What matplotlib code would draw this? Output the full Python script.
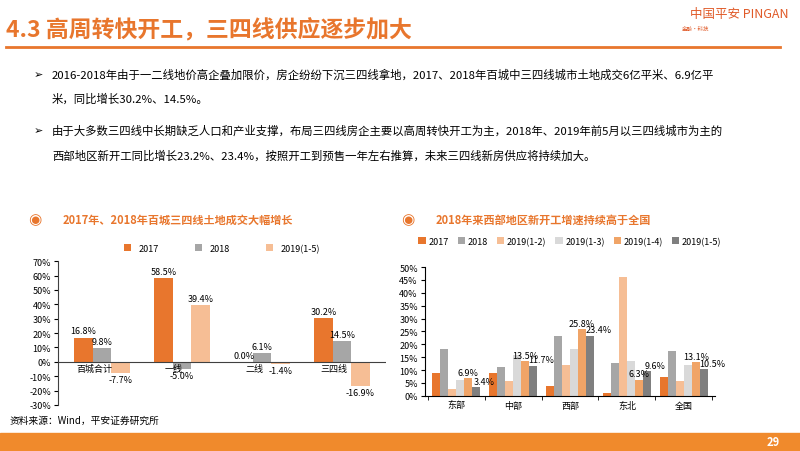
import numpy as np
import matplotlib
matplotlib.use('Agg')
import matplotlib.pyplot as plt
from matplotlib.patches import Rectangle

plt.rcParams['font.family'] = ['Noto Sans CJK SC', 'DejaVu Sans']

# 左图数据
left_cats = ['百城合计', '一线', '二线', '三四线']
left_series = ['2017', '2018', '2019(1-5)']
left_2017 = [16.8, 58.5, 0.0, 30.2]
left_2018 = [9.8, -5.0, 6.1, 14.5]
left_2019 = [-7.7, 39.4, -1.4, -16.9]

# 右图数据
right_cats = ['东部', '中部', '西部', '东北', '全国']
right_series = ['2017', '2018', '2019(1-2)', '2019(1-3)', '2019(1-4)', '2019(1-5)']
r_2017 = [8.8, 9.0, 4.0, 1.3, 7.2]
r_2018 = [18.2, 11.2, 23.2, 12.6, 17.3]
r_1_2 = [2.8, 5.8, 11.8, 46.0, 5.8]
r_1_3 = [6.3, 15.8, 18.2, 13.5, 11.9]
r_1_4 = [6.9, 13.5, 25.8, 6.3, 13.1]
r_1_5 = [3.4, 11.7, 23.4, 9.6, 10.5]

ORANGE = '#E8762D'
GRAY = '#A6A6A6'
PEACH = '#F6BE95'

fig = plt.figure(figsize=(8, 4.52), dpi=100)
fig.patch.set_facecolor('white')

# 页眉
fig.text(0.008, 0.932, '4.3 高周转快开工，三四线供应逐步加大', fontsize=16.5, color=ORANGE,
         fontweight='bold', va='center')
fig.text(0.985, 0.968, '中国平安 PINGAN', fontsize=9, color='#E05A28', ha='right', va='center')
fig.text(0.87, 0.935, '金融·科技', fontsize=4, color='#E05A28', ha='center', va='center')
fig.add_artist(plt.Line2D([0.008, 0.975], [0.893, 0.893], color=ORANGE, lw=2))

bullet1 = ('2016-2018年由于一二线地价高企叠加限价，房企纷纷下沉三四线拿地，2017、2018年百城中三四线城市土地成交6亿平米、6.9亿平')
bullet1b = '米，同比增长30.2%、14.5%。'
bullet2 = '由于大多数三四线中长期缺乏人口和产业支撑，布局三四线房企主要以高周转快开工为主，2018年、2019年前5月以三四线城市为主的'
bullet2b = '西部地区新开工同比增长23.2%、23.4%，按照开工到预售一年左右推算，未来三四线新房供应将持续加大。'
fs = 8.2
fig.text(0.042, 0.835, '➢', fontsize=8, va='center', family=['DejaVu Sans'])
fig.text(0.065, 0.835, bullet1, fontsize=fs, va='center')
fig.text(0.065, 0.78, bullet1b, fontsize=fs, va='center')
fig.text(0.042, 0.71, '➢', fontsize=8, va='center', family=['DejaVu Sans'])
fig.text(0.065, 0.71, bullet2, fontsize=fs, va='center')
fig.text(0.065, 0.655, bullet2b, fontsize=fs, va='center')

# 子图标题
for cx, title in [(0.043, '2017年、2018年百城三四线土地成交大幅增长'),
                  (0.51, '2018年来西部地区新开工增速持续高于全国')]:
    fig.text(cx, 0.513, '◉', fontsize=11, color=ORANGE, ha='center', va='center',
             family=['DejaVu Sans'])
    fig.text(cx + 0.035, 0.513, title, fontsize=8, color=ORANGE, fontweight='bold', va='center')

# 左图
ax1 = fig.add_axes([0.0725, 0.102, 0.41, 0.318])
x = np.arange(len(left_cats))
w = 0.23
vals_l = [left_2017, left_2018, left_2019]
cols_l = [ORANGE, GRAY, PEACH]
for i, (vals, c, name) in enumerate(zip(vals_l, cols_l, left_series)):
    pos = x + (i - 1) * w
    ax1.bar(pos, vals, w, color=c, label=name)
    for p, v in zip(pos, vals):
        ax1.text(p, v + (1.5 if v >= 0 else -1.5), f'{v:.1f}%', ha='center',
                 va='bottom' if v >= 0 else 'top', fontsize=6.5)
for xi, cat in zip(x, left_cats):
    ax1.text(xi - 0.1, -1.5, cat, ha='center', va='top', fontsize=6.5)
ax1.axhline(0, color='#404040', lw=0.8)
ax1.set_ylim(-30, 70)
ax1.set_xlim(-0.55, 3.55)
ax1.set_yticks(np.arange(-30, 71, 10))
ax1.set_yticklabels([f'{t}%' for t in range(-30, 71, 10)], fontsize=6.5)
ax1.set_xticks([])
for s in ['top', 'right', 'bottom']:
    ax1.spines[s].set_visible(False)
ax1.spines['left'].set_color('#404040')
ax1.tick_params(axis='y', length=3, pad=2)
ax1.patch.set_alpha(0)
ax1.legend(loc='lower center', bbox_to_anchor=(0.5, 1.0), ncol=3, frameon=False,
           fontsize=6.5, handlelength=0.8, handleheight=0.8, columnspacing=4)

# 右图
ax2 = fig.add_axes([0.531, 0.122, 0.363, 0.285])
x2 = np.arange(len(right_cats))
w2 = 0.14
vals_r = [r_2017, r_2018, r_1_2, r_1_3, r_1_4, r_1_5]
cols_r = [ORANGE, GRAY, PEACH, '#D9D9D9', '#F0A467', '#7F7F7F']
for i, (vals, c, name) in enumerate(zip(vals_r, cols_r, right_series)):
    pos = x2 + (i - 2.5) * w2
    ax2.bar(pos, vals, w2, color=c, label=name)
    if i >= 4:
        dx = 0.0 if i == 4 else 0.15
        for p, v in zip(pos, vals):
            ax2.text(p + dx, v + 0.5, f'{v:.1f}%', ha='center', va='bottom', fontsize=6.5)
ax2.set_ylim(0, 50)
ax2.set_xlim(-0.55, 4.55)
ax2.set_yticks(np.arange(0, 51, 5))
ax2.set_yticklabels([f'{t}%' for t in range(0, 51, 5)], fontsize=6.5)
ax2.set_xticks(x2)
ax2.set_xticklabels(right_cats, fontsize=6.5)
ax2.set_xticks(np.arange(-0.5, 5, 1), minor=True)
ax2.tick_params(axis='x', which='major', length=0, pad=4)
ax2.tick_params(axis='x', which='minor', length=3)
ax2.tick_params(axis='y', length=3, pad=2)
for s in ['top', 'right']:
    ax2.spines[s].set_visible(False)
ax2.patch.set_alpha(0)
ax2.legend(loc='lower center', bbox_to_anchor=(0.5, 1.1), ncol=6, frameon=False,
           fontsize=6.5, handlelength=0.8, handleheight=0.8, columnspacing=1.0,
           handletextpad=0.3)

# 来源与页脚
fig.text(0.012, 0.07, '资料来源：Wind，平安证券研究所', fontsize=7, va='center')
fig.add_artist(Rectangle((0, 0), 1, 0.04, transform=fig.transFigure, color='#F08A2C'))
fig.text(0.975, 0.02, '29', fontsize=8, color='white', ha='right', va='center', fontweight='bold')

fig.savefig('out.png', dpi=100)
